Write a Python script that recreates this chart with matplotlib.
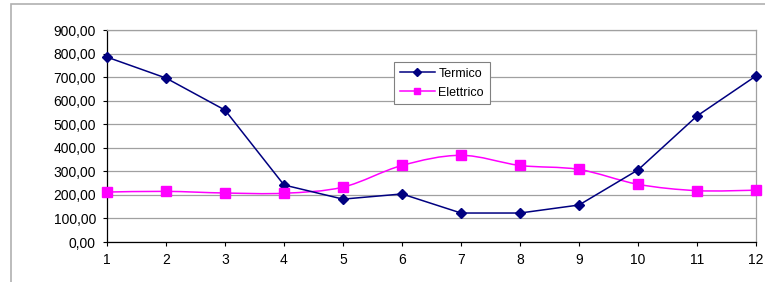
import matplotlib
matplotlib.use("Agg")
import matplotlib.pyplot as plt
from matplotlib.path import Path
from matplotlib.patches import PathPatch, Rectangle
from matplotlib.lines import Line2D
from matplotlib.ticker import FuncFormatter

mesi = [1, 2, 3, 4, 5, 6, 7, 8, 9, 10, 11, 12]
termico = [785, 696, 560, 242, 182, 204, 123, 123, 157, 306, 535, 705]
elettrico = [212, 215, 208, 207, 233, 325, 368, 325, 308, 245, 218, 220]

plt.rcParams['font.family'] = ['Liberation Sans', 'DejaVu Sans']


def smooth_path(xs, ys, t=1/6):
    # curva tipo "linea smussata" di Excel (Catmull-Rom -> Bezier)
    verts = [(xs[0], ys[0])]
    codes = [Path.MOVETO]
    n = len(xs)
    for i in range(n - 1):
        x0, y0 = (xs[i - 1], ys[i - 1]) if i > 0 else (xs[i], ys[i])
        x1, y1 = xs[i], ys[i]
        x2, y2 = xs[i + 1], ys[i + 1]
        x3, y3 = (xs[i + 2], ys[i + 2]) if i + 2 < n else (x2, y2)
        c1 = (x1 + (x2 - x0) * t, y1 + (y2 - y0) * t)
        c2 = (x2 - (x3 - x1) * t, y2 - (y3 - y1) * t)
        verts += [c1, c2, (x2, y2)]
        codes += [Path.CURVE4] * 3
    return Path(verts, codes)


fig = plt.figure(figsize=(7.65, 2.82), dpi=100)
fig.patches.append(Rectangle((11 / 765, -0.2), 1.2, 1.2 - 4 / 282,
                             transform=fig.transFigure, fill=False,
                             edgecolor='#b0b0b0', linewidth=1.2))

ax = fig.add_axes([107 / 765, 1 - 242 / 282, (756 - 107) / 765, (242 - 30) / 282])
ax.set_xlim(1, 12)
ax.set_ylim(0, 900)
ax.set_yticks(range(0, 901, 100))
ax.set_xticks(mesi)
ax.yaxis.set_major_formatter(FuncFormatter(lambda v, p: f"{v:.2f}".replace('.', ',')))
ax.grid(axis='y', color='#a0a0a0', linewidth=0.9)
ax.set_axisbelow(True)
for s in ['top', 'right']:
    ax.spines[s].set_color('#a0a0a0')
    ax.spines[s].set_linewidth(0.9)
for s in ['left', 'bottom']:
    ax.spines[s].set_color('black')
    ax.spines[s].set_linewidth(0.9)
ax.tick_params(axis='both', labelsize=10, length=3, width=0.8, colors='black')
ax.tick_params(axis='y', pad=5)
ax.tick_params(axis='x', pad=5)

ax.plot(mesi, termico, color='#000080', linewidth=1.1, marker='D', markersize=5,
        clip_on=False, zorder=4)
ax.add_patch(PathPatch(smooth_path(mesi, elettrico), fill=False, edgecolor='#ff00ff',
                       linewidth=1.1, zorder=3))
ax.plot(mesi, elettrico, linestyle='none', color='#ff00ff', marker='s', markersize=6.5,
        clip_on=False, zorder=4)

handles = [Line2D([], [], color='#000080', marker='D', markersize=4, linewidth=1.1),
           Line2D([], [], color='#ff00ff', marker='s', markersize=5, linewidth=1.1)]
leg = ax.legend(handles, ['Termico', 'Elettrico'], loc='upper left',
                bbox_to_anchor=((394 - 107) / 649, (242 - 62) / 212), fontsize=9,
                frameon=True, fancybox=False, edgecolor='#808080', framealpha=1,
                handlelength=2.8, borderpad=0.45, labelspacing=0.55, handletextpad=0.3,
                borderaxespad=0)
leg.get_frame().set_linewidth(0.8)

fig.savefig('out.png', dpi=100)
